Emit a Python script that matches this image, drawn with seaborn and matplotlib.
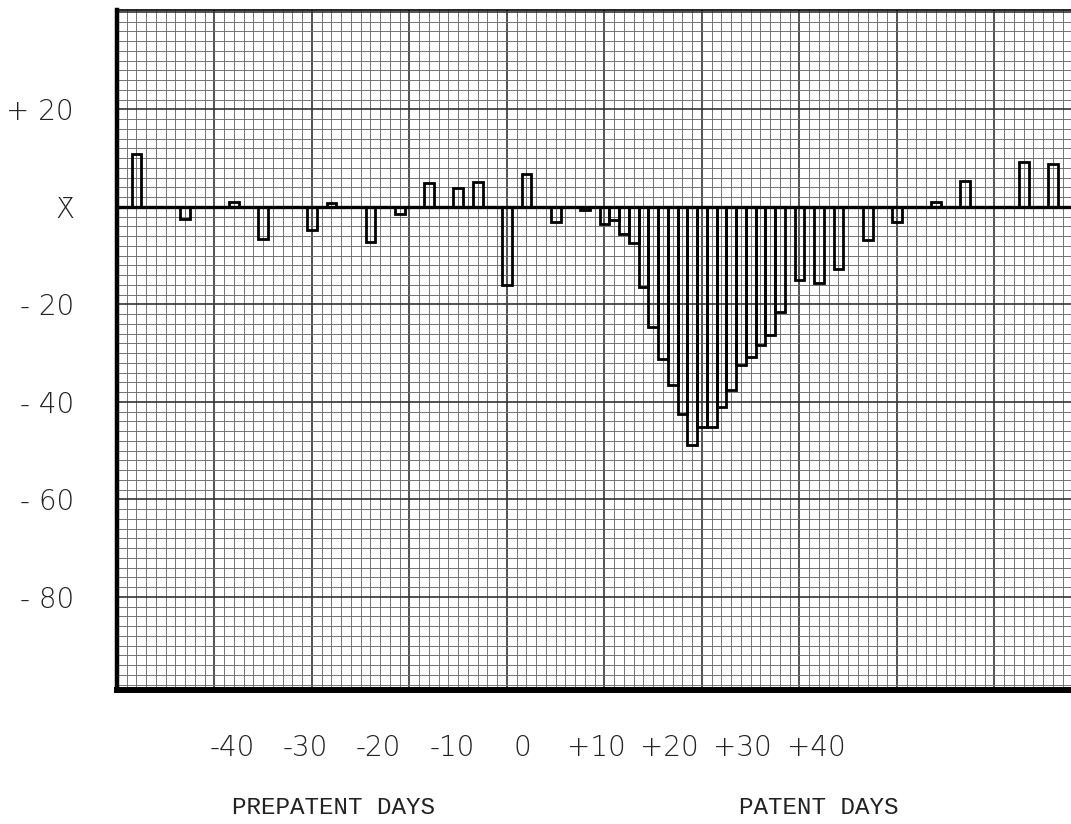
import matplotlib
matplotlib.use("Agg")
import matplotlib.pyplot as plt
import seaborn as sns
import pandas as pd

# Daily deviation from the mean, one bar per graph-paper column
day_slot = [2, 7, 12, 15, 20, 22, 26, 29, 32, 35, 37, 40, 42, 45, 48,
            50, 51, 52, 53, 54, 55, 56, 57, 58, 59, 60, 61, 62, 63, 64,
            65, 66, 67, 68, 70, 72, 74, 77, 80, 84, 87, 93, 96]
deviation = [10.8, -2.4, 1.0, -6.5, -4.8, 0.8, -7.2, -1.4, 4.9, 3.8, 5.1, -16.1, 6.7, -3.0, -0.7,
             -3.4, -2.6, -5.5, -7.5, -16.4, -24.6, -31.1, -36.6, -42.4, -48.9, -45.1, -45.1, -41.0, -37.6, -32.5,
             -30.8, -28.4, -26.3, -21.5, -14.9, -15.7, -12.7, -6.8, -3.1, 1.0, 5.3, 9.2, 8.9]

day_labels = ["-40", "-30", "-20", "-10", "0", "+10", "+20", "+30", "+40"]
day_label_slots = [11.8, 19.3, 26.8, 34.4, 41.6, 49.2, 56.7, 64.1, 71.7]
level_values = [20, 0, -20, -40, -60, -80]
level_labels = ["+ 20", "X\u0304", "- 20", "- 40", "- 60", "- 80"]

df = pd.DataFrame({"slot": day_slot, "dev": deviation})

sns.set_style("white")
plt.rcParams["font.family"] = ["DejaVu Sans"]

fig = plt.figure(figsize=(10.71, 8.24), dpi=100)
ax = fig.add_axes([117 / 1071, 1 - 690 / 824, 1 - 117 / 1071, 680 / 824])

x_max = 97.85
y_min, y_max = -99.1, 40.4

# graph paper ruling
for i in range(0, 98):
    major = i % 10 == 0
    ax.axvline(i, color="#333333" if major else "#6a6a6a",
               lw=1.2 if major else 0.65, zorder=0)
for v in range(-98, 41, 2):
    major = v % 20 == 0
    ax.axhline(v, color="#333333" if major else "#6a6a6a",
               lw=1.2 if major else 0.65, zorder=0)

sns.barplot(data=df, x="slot", y="dev", native_scale=True, width=1.0,
            fill=False, color="black", linewidth=2.0, errorbar=None, ax=ax)
for p in ax.patches:
    p.set_zorder(2)

ax.axhline(0, color="black", lw=2.4, zorder=3)

ax.set_xlim(0, x_max)
ax.set_ylim(y_min, y_max)

ax.set_xticks(day_label_slots)
ax.set_xticklabels(day_labels)
ax.set_yticks(level_values)
ax.set_yticklabels(level_labels)
ax.tick_params(axis="x", length=0, pad=32, labelsize=20, labelcolor="#222222")
ax.tick_params(axis="y", length=0, pad=31, labelsize=20, labelcolor="#222222")
for lab in ax.get_xticklabels() + ax.get_yticklabels():
    lab.set_fontweight(200)

ax.set_xlabel("")
ax.set_ylabel("")

for side in ["left", "bottom", "top", "right"]:
    ax.spines[side].set_visible(True)
    ax.spines[side].set_color("black")
ax.spines["left"].set_linewidth(3.2)
ax.spines["bottom"].set_linewidth(4.3)
ax.spines["top"].set_linewidth(1.2)
ax.spines["right"].set_visible(False)

fig.text(333 / 1071, 1 - 808 / 824, "PREPATENT DAYS", ha="center", va="center",
         family="Liberation Mono", fontsize=17.5, color="#222222")
fig.text(819 / 1071, 1 - 808 / 824, "PATENT DAYS", ha="center", va="center",
         family="Liberation Mono", fontsize=17.5, color="#222222")

fig.savefig("out.png", dpi=100, facecolor="white")
